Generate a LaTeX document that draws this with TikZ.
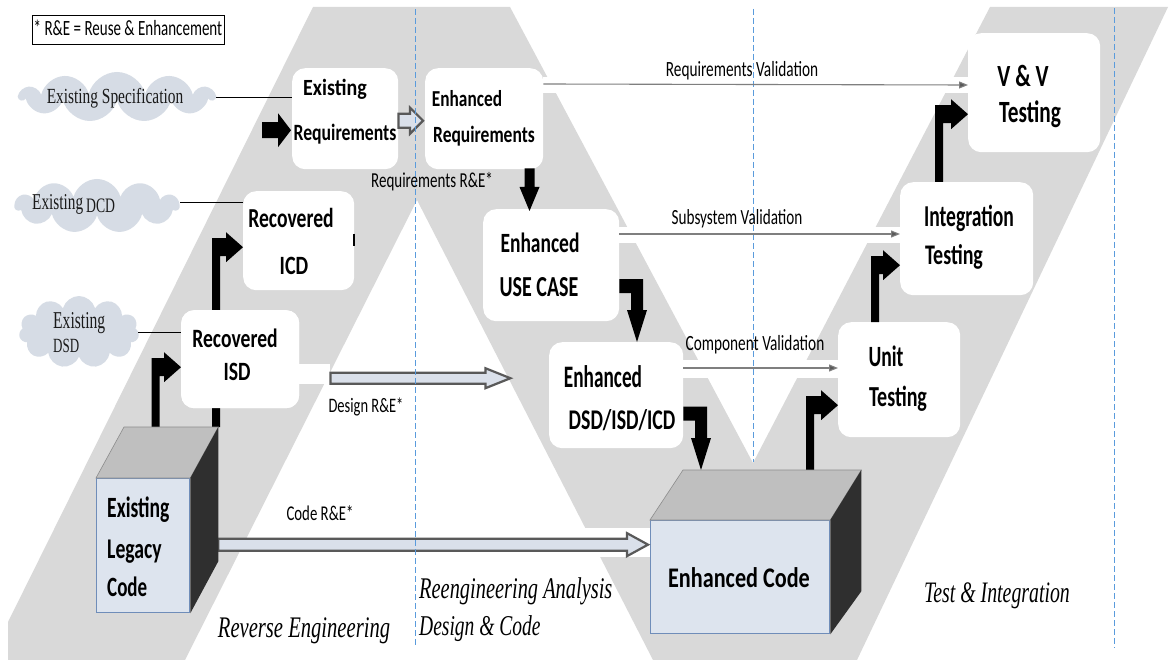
\documentclass[tikz,border=0pt]{standalone}
\usepackage{fontspec}
\usepackage{graphicx}
\setmainfont{Carlito}
\newfontfamily\cambriaish{Liberation Serif}
\usetikzlibrary{calc,shapes.symbols,arrows.meta}

\definecolor{band}{HTML}{D9D9D9}
\definecolor{cloudfill}{HTML}{D6DCE5}
\definecolor{cloudink}{HTML}{1A1A1A}
\definecolor{guideblue}{HTML}{5A9BDC}
\definecolor{valgray}{HTML}{7F7F7F}
\definecolor{valhead}{HTML}{595959}
\definecolor{hollowfill}{HTML}{DAE0EA}
\definecolor{hollowedge}{HTML}{595959}
\definecolor{faceblue}{HTML}{DDE4EE}
\definecolor{faceedge}{HTML}{6F8DB9}
\definecolor{topgray}{HTML}{BFBFBF}
\definecolor{topedge}{HTML}{8C8C8C}
\definecolor{sidedark}{HTML}{2F2F2F}

% text of given size, stretched vertically
\newcommand\sz[3]{\scalebox{1}[#2]{\fontsize{#1}{#1}\selectfont #3}}

% bent block arrow: up from #1, then right into #2
\newcommand\bentup[2]{\fill let \p1=(#1), \p2=(#2) in
  (\x1-4pt,\y1) -- (\x1-4pt,\y2+9pt) -- (\x2-17pt,\y2+9pt) -- (\x2-17pt,\y2+15pt)
  -- (\p2) -- (\x2-17pt,\y2-15pt) -- (\x2-17pt,\y2-9pt) -- (\x1+4pt,\y2-9pt)
  -- (\x1+4pt,\y1) -- cycle;}
% bent block arrow: right from #1, then down into #2
\newcommand\bentdown[2]{\fill let \p1=(#1), \p2=(#2) in
  (\x1,\y1+7pt) -- (\x2+6pt,\y1+7pt) -- (\x2+6pt,\y2+32pt) -- (\x2+10pt,\y2+32pt)
  -- (\p2) -- (\x2-10pt,\y2+32pt) -- (\x2-6pt,\y2+32pt) -- (\x2-6pt,\y1-7pt)
  -- (\x1,\y1-7pt) -- cycle;}
% straight block arrows: [style]{tail}{tip}{shaft half}{head half}{head length}
\newcommand\blockright[6][solidarrow]{\path[#1] let \p1=(#2), \p2=(#3) in
  (\x1,\y1+#4) -- (\x2-#6,\y1+#4) -- (\x2-#6,\y1+#5) -- (\p2)
  -- (\x2-#6,\y1-#5) -- (\x2-#6,\y1-#4) -- (\x1,\y1-#4) -- cycle;}
\newcommand\blockdown[6][solidarrow]{\path[#1] let \p1=(#2), \p2=(#3) in
  (\x1-#4,\y1) -- (\x1-#4,\y2+#6) -- (\x1-#5,\y2+#6) -- (\p2)
  -- (\x1+#5,\y2+#6) -- (\x1+#4,\y2+#6) -- (\x1+#4,\y1) -- cycle;}

\tikzset{
  stage/.style={fill=white, draw=none, rounded corners=13pt, inner sep=0pt, anchor=north west},
  stagetext/.style={font=\bfseries, inner sep=0pt, anchor=base},
  stageleft/.style={font=\bfseries, inner sep=0pt, anchor=base west},
  note/.style={inner sep=0pt, anchor=base},
  phase/.style={font=\cambriaish\itshape, inner sep=0pt, anchor=base},
  phaseleft/.style={font=\cambriaish\itshape, inner sep=0pt, anchor=base west},
  cloudtext/.style={font=\cambriaish, text=cloudink, inner sep=0pt, anchor=base west},
  puff/.style={cloud, cloud puffs=11, cloud ignores aspect, fill=cloudfill, draw=none, inner sep=0pt},
  guideline/.style={draw=guideblue, line width=1pt, dash pattern=on 6pt off 3pt},
  validation/.style={draw=valgray, line width=1.1pt, -{Triangle[length=9pt,width=7pt,fill=valhead]}},
  tie/.style={draw=black, line width=0.8pt},
  solidarrow/.style={fill=black},
  hollowarrow/.style={fill=hollowfill, draw=hollowedge, line width=2.2pt, line join=miter},
  facefront/.style={fill=faceblue, draw=faceedge, line width=1.3pt, inner sep=0pt, anchor=north west},
  facetop/.style={fill=topgray, draw=topedge, line width=0.6pt},
  faceside/.style={fill=sidedark},
}

\begin{document}
\begin{tikzpicture}[x=1pt,y=-1pt]
\useasboundingbox (0,0) rectangle (1174,660);
\fill[white] (0,0) rectangle (1174,660);

% phase band: reverse (up), forward (down), test (up)
\fill[band] (8,660) -- (8,622) -- (313,7) -- (510,7) -- (753,463) -- (990,7)
  -- (1168,7) -- (857,660) -- (653,660) -- (417,200) -- (185,660) -- cycle;

% clear lanes under the validation lines and the R&E arrows
\fill[white] (543,77) rectangle (968,93);
\fill[white] (619,227) rectangle (900,243);
\fill[white] (683,360) rectangle (838,378);
\fill[white] (299,364) rectangle (330,384);
\fill[white] (560,528) rectangle (650,557);

% stages
\node[stage, minimum width=106pt, minimum height=101pt] (exreq) at (292,68) {};
\node[stage, minimum width=118pt, minimum height=101pt] (enreq) at (425,68) {};
\node[stage, minimum width=111pt, minimum height=99pt] (ricd) at (243,191) {};
\node[stage, minimum width=118pt, minimum height=98pt] (risd) at (181,310) {};
\node[stage, minimum width=136pt, minimum height=112pt] (usecase) at (483,209) {};
\node[stage, minimum width=134pt, minimum height=106pt] (dsd) at (549,342) {};
\node[stage, minimum width=122pt, minimum height=115pt] (unit) at (838,322) {};
\node[stage, minimum width=133pt, minimum height=113pt] (integ) at (900,182) {};
\node[stage, minimum width=132pt, minimum height=119pt] (vv) at (968,33) {};

% code blocks (front faces)
\node[facefront, minimum width=93pt, minimum height=134pt] (legacy) at (96,478) {};
\node[facefront, minimum width=179pt, minimum height=113pt] (code) at (650,520) {};

% sources
\node[puff, minimum width=194pt, minimum height=50pt] (spec) at (117,97) {};
\node[puff, minimum width=164pt, minimum height=54pt] (dcd) at (97,206) {};
\node[puff, minimum width=120pt, minimum height=72pt] (dsdsrc) at (79,332) {};
\draw[tie] (spec.east) -- (exreq.west |- spec.east);
\draw[tie] ($(dcd.east)+(0,-4)$) -- ($(ricd.west |- dcd.east)+(0,-4)$);
\draw[tie] (dsdsrc.east) -- (risd.west |- dsdsrc.east);

% R&E transfer arrows
\coordinate (reqhand) at ($(exreq.east)+(0,2)$);
\blockright[hollowarrow]{reqhand}{$(enreq.west |- reqhand)+(-2,0)$}{7pt}{13pt}{13pt}
\coordinate (design-tail) at ($(risd.east)+(31,19)$);
\coordinate (design-tip) at ($(design-tail)+(180,0)$);
\blockright[hollowarrow]{design-tail}{design-tip}{5.5pt}{10pt}{25pt}
\coordinate (code-tail) at ($(legacy.east)+(28,-1)$);
\blockright[hollowarrow]{code-tail}{$(code.west |- code-tail)+(-2,0)$}{6pt}{11.5pt}{21pt}

% phase separators
\draw[guideline] (415,9) -- (415,645);
\draw[guideline] (753,9) -- (753,462);
\draw[guideline] (1114,8) -- (1114,648);

% flow arrows
\coordinate (reqfeed) at ($(exreq.west)+(-30,11.5)$);
\blockright{reqfeed}{$(exreq.west |- reqfeed)+(-1,0)$}{8pt}{17pt}{13pt}
\coordinate (ucdrop) at ($(enreq.south west)+(104.5,-1)$);
\blockdown{ucdrop}{$(usecase.north -| ucdrop)+(0,2)$}{5pt}{10pt}{24pt}
\coordinate (uc-exit) at ($(usecase.east)+(0,21)$);
\coordinate (dsd-entry) at ($(dsd.north west)+(88,0)$);
\bentdown{uc-exit}{dsd-entry}
\coordinate (dsd-exit) at ($(dsd.east)+(0,18.5)$);
\coordinate (code-entry) at ($(code.north west)+(51,-50)$);
\bentdown{dsd-exit}{code-entry}

\coordinate (lg-feed1) at ($(legacy.north west)+(59.5,-51)$);
\bentup{lg-feed1}{$(risd.west)+(0,8)$}
\coordinate (lg-feed2) at ($(legacy.north west)+(120,-51)$);
\bentup{lg-feed2}{$(ricd.west)+(0,6.5)$}
\coordinate (code-feed) at ($(code.north west)+(160,-50)$);
\bentup{code-feed}{$(unit.west)+(0,25.5)$}
\coordinate (unit-feed) at ($(unit.north west)+(37,0)$);
\bentup{unit-feed}{$(integ.west)+(0,26.5)$}
\coordinate (integ-feed) at ($(integ.north west)+(39,0)$);
\bentup{integ-feed}{$(vv.west)+(0,21.5)$}

% stage drawn again on top of the hidden arrow shaft
\node[stage, minimum width=118pt, minimum height=98pt] (risd-front) at (181,310) {};
\draw[line width=1.6pt] ($(ricd.east)+(-0.5,-7)$) -- ($(ricd.east)+(-0.5,5)$);

% code block faces
\path[facetop] (legacy.north west) -- ++(28,-51) -- ($(legacy.north east)+(28,-51)$) -- (legacy.north east) -- cycle;
\path[faceside] (legacy.north east) -- ++(28,-51) -- ($(legacy.south east)+(28,-52)$) -- (legacy.south east) -- cycle;
\path[facetop] (code.north west) -- ++(33,-50) -- ($(code.north east)+(31,-50)$) -- (code.north east) -- cycle;
\path[faceside] (code.north east) -- ++(31,-50) -- ($(code.south east)+(31,-43)$) -- (code.south east) -- cycle;

% validation lines
\coordinate (rv-start) at ($(enreq.north east)+(0,16)$);
\draw[validation] (rv-start) -- ($(vv.west |- rv-start)+(0,1)$);
\coordinate (sv-start) at ($(usecase.north east)+(0,25)$);
\draw[validation] (sv-start) -- (integ.west |- sv-start);
\coordinate (cv-start) at ($(dsd.north east)+(0,26)$);
\draw[validation] (cv-start) -- (unit.west |- cv-start);

% stage labels
\node[stagetext] (exreq-l1) at (335,96) {\sz{20}{1.16}{Existing}};
\node[stagetext] (exreq-l2) at (345,141) {\sz{17.7}{1.32}{Requirements}};
\node[stagetext] (enreq-l1) at (467,107) {\sz{17.3}{1.32}{Enhanced}};
\node[stagetext] (enreq-l2) at (484,142.5) {\sz{17.5}{1.33}{Requirements}};
\node[stagetext] (ricd-l1) at (291,228) {\sz{19.6}{1.4}{Recovered}};
\node[stagetext] (ricd-l2) at (294,274) {\sz{20}{1.32}{ICD}};
\node[stagetext] (risd-l1) at (235,347) {\sz{19.6}{1.35}{Recovered}};
\node[stagetext] (risd-l2) at (237,380) {\sz{19.7}{1.34}{ISD}};
\node[stagetext] (uc-l1) at (540,252) {\sz{19.5}{1.43}{Enhanced}};
\node[stagetext] (uc-l2) at (539,296) {\sz{20}{1.45}{USE CASE}};
\node[stagetext] (dsd-l1) at (603,387) {\sz{19.3}{1.62}{Enhanced}};
\node[stagetext] (dsd-l2) at (622,429) {\sz{19.8}{1.44}{DSD/ISD/ICD}};
\node[stagetext] (unit-l1) at (886,366) {\sz{19.6}{1.5}{Unit}};
\node[stagetext] (unit-l2) at (898,406) {\sz{20}{1.45}{Testing}};
\node[stagetext] (integ-l1) at (969,227) {\sz{19.6}{1.55}{Integration}};
\node[stagetext] (integ-l2) at (954,265) {\sz{20}{1.42}{Testing}};
\node[stagetext] (vv-l1) at (1023,87) {\sz{22}{1.4}{V \& V}};
\node[stagetext] (vv-l2) at (1030,123) {\sz{21.3}{1.45}{Testing}};
\node[stageleft] (lg-l1) at (107,517) {\sz{19.6}{1.5}{Existing}};
\node[stageleft] (lg-l2) at (107,558) {\sz{19.7}{1.45}{Legacy}};
\node[stageleft] (lg-l3) at (107,596) {\sz{19}{1.47}{Code}};
\node[stagetext] (code-l) at (739,587) {\sz{22.2}{1.28}{Enhanced Code}};

% source labels
\node[note, font=\cambriaish, text=cloudink] (spec-t) at (115,104) {\sz{15.4}{1.4}{Existing Specification}};
\node[cloudtext] (dcd-t1) at (32,210) {\sz{15.3}{1.48}{Existing}};
\node[cloudtext] (dcd-t2) at (86,213) {\sz{13.7}{1.5}{DCD}};
\node[cloudtext] (dsd-t1) at (53,328) {\sz{15.6}{1.55}{Existing}};
\node[cloudtext] (dsd-t2) at (53,352) {\sz{13}{1.55}{DSD}};

% connector labels
\node[note] (reqval-t) at (742,77) {\sz{15.3}{1.42}{Requirements Validation}};
\node[note] (reqre-t) at (432,188) {\sz{15}{1.42}{Requirements R\&E*}};
\node[note] (subval-t) at (737,225) {\sz{15.2}{1.42}{Subsystem Validation}};
\node[note] (compval-t) at (755,350) {\sz{15.3}{1.42}{Component Validation}};
\node[note] (desre-t) at (366,412) {\sz{14.5}{1.42}{Design R\&E*}};
\node[note] (codere-t) at (320,520) {\sz{14.8}{1.42}{Code R\&E*}};

% phase names
\node[phase] (ph-re) at (304,637) {\sz{20.6}{1.45}{Reverse Engineering}};
\node[phaseleft] (ph-ra1) at (419,598) {\sz{20.4}{1.47}{Reengineering Analysis}};
\node[phaseleft] (ph-ra2) at (419,635) {\sz{19.5}{1.47}{Design \& Code}};
\node[phase] (ph-ti) at (997,602) {\sz{19.8}{1.5}{Test \& Integration}};

% legend
\node[draw=black, line width=0.7pt, fill=white, minimum width=192pt, minimum height=29pt, inner sep=0pt, anchor=north west] (legend) at (32,15) {};
\node[note] (legend-t) at (128,36) {\sz{15}{1.45}{* R\&E = Reuse \& Enhancement}};
\end{tikzpicture}
\end{document}
